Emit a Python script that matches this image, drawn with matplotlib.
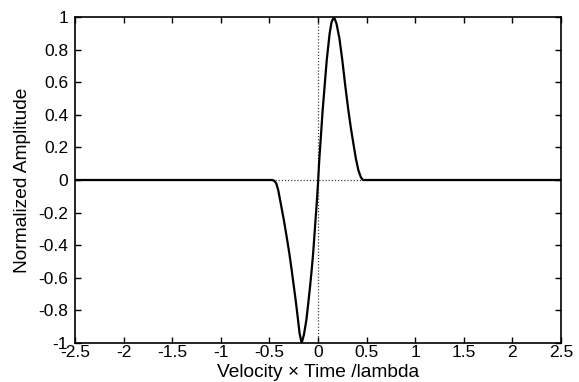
import matplotlib
matplotlib.use("Agg")
import matplotlib.pyplot as plt

plt.rcParams['font.family'] = ['Liberation Sans', 'DejaVu Sans']

# Values
x_vals = [-2.5, -0.47, -0.45, -0.43, -0.41, -0.384, -0.35, -0.322, -0.295, -0.271,
          -0.248, -0.226, -0.205, -0.19, -0.168, -0.145, -0.12, -0.100, -0.082, -0.065,
          -0.05, -0.038, -0.025, -0.013, 0.0, 0.013, 0.03, 0.048, 0.07, 0.090,
          0.12, 0.14, 0.165, 0.19, 0.22, 0.250, 0.28, 0.312, 0.338, 0.363,
          0.39, 0.415, 0.44, 0.455, 0.466, 2.5]
y_vals = [0.0, 0.0, -0.005, -0.02, -0.06, -0.141, -0.25, -0.350, -0.45, -0.552,
          -0.655, -0.755, -0.86, -0.94, -1.0, -0.95, -0.86, -0.755, -0.655, -0.552,
          -0.45, -0.350, -0.24, -0.141, -0.02, 0.123, 0.27, 0.429, 0.59, 0.736,
          0.90, 0.97, 1.0, 0.96, 0.87, 0.736, 0.58, 0.429, 0.32, 0.227,
          0.13, 0.061, 0.018, 0.005, 0.0, 0.0]

x_ticks = [-2.5, -2, -1.5, -1, -0.5, 0, 0.5, 1, 1.5, 2, 2.5]
x_tick_labels = ['-2.5', '-2', '-1.5', '-1', '-0.5', '0', '0.5', '1', '1.5', '2', '2.5']
y_ticks = [-1, -0.8, -0.6, -0.4, -0.2, 0, 0.2, 0.4, 0.6, 0.8, 1]
y_tick_labels = ['-1', '-0.8', '-0.6', '-0.4', '-0.2', '0', '0.2', '0.4', '0.6', '0.8', '1']

fig = plt.figure(figsize=(5.79, 3.82), dpi=100)
ax = fig.add_axes([75/579, 39/382, (561-75)/579, (343-17)/382])

ax.axhline(0, color='#444444', linestyle=(0, (1, 1.5)), linewidth=0.9, zorder=1)
ax.axvline(0, color='#444444', linestyle=(0, (1, 1.5)), linewidth=0.9, zorder=1)
ax.plot(x_vals, y_vals, color='black', linewidth=1.6, zorder=2)

ax.set_xlim(-2.5, 2.5)
ax.set_ylim(-1, 1)
ax.set_xticks(x_ticks)
ax.set_xticklabels(x_tick_labels)
ax.set_yticks(y_ticks)
ax.set_yticklabels(y_tick_labels)
ax.tick_params(direction='in', length=4, width=1, top=True, right=True,
               labelsize=12.5, colors='black')
ax.tick_params(axis='x', pad=1.5)
ax.tick_params(axis='y', pad=5)
for s in ax.spines.values():
    s.set_linewidth(1.2)

ax.set_xlabel('Velocity \u00d7 Time /lambda', fontsize=13.8, labelpad=2.5)
ax.set_ylabel('Normalized Amplitude', fontsize=13.8, labelpad=5)

fig.savefig('out.png', dpi=100)
